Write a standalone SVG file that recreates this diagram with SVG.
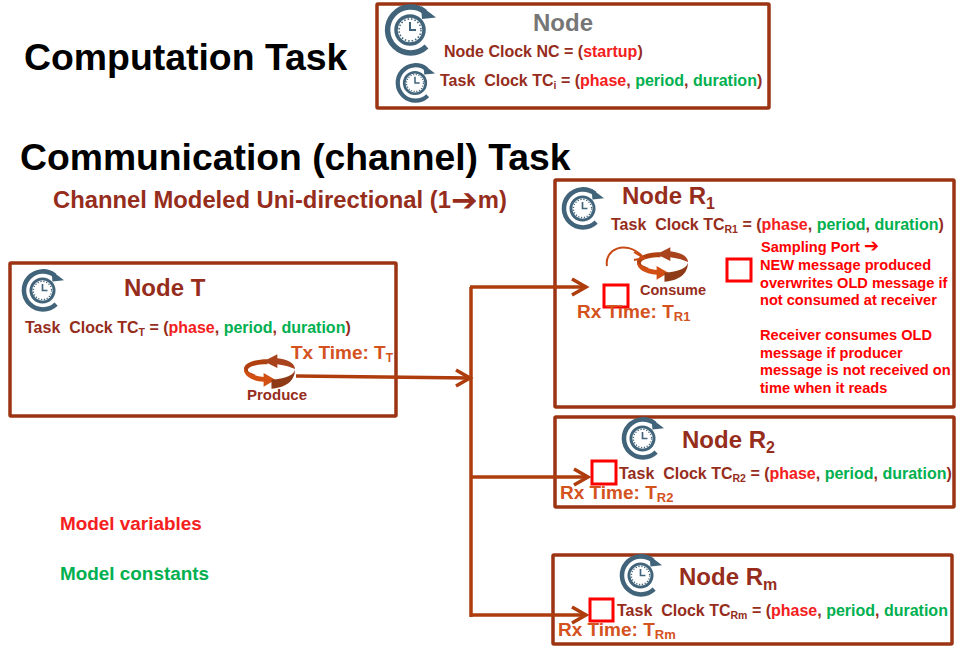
<svg xmlns="http://www.w3.org/2000/svg" width="960" height="652" viewBox="0 0 960 652">
<style>
text{font-family:"Liberation Sans",Arial,sans-serif;font-weight:700;white-space:pre}
.box{fill:#fff;stroke:#9c3414;stroke-width:3.5}
.port{fill:none;stroke:#f00;stroke-width:3}
.wire{fill:none;stroke:#ae3c0c;stroke-width:3.5}
.head{fill:none;stroke:#ae3c0c;stroke-width:3.5}
.t{fill:#962d1c;font-size:16px}
.h{fill:#962d1c;font-size:24px}
.rx{fill:#d4521e;font-size:19px}
.note{fill:#f00;font-size:14.6px}
.r{fill:#f42020}.g{fill:#00b050}
.sub{font-size:10.5px}
.rsub{font-size:13px}
.hsub{font-size:16px}
.arr{font-family:"DejaVu Sans",sans-serif}
</style>
<defs>
<symbol id="clock" viewBox="-26 -26 52 52" overflow="visible">
<path d="M15 -18A23 23 0 1 0 16.5 16.5" fill="none" stroke="#41647a" stroke-width="5.5"/>
<path d="M11 -24L26 -12.500L12 -11Z" fill="#41647a"/>
<circle r="14" fill="none" stroke="#41647a" stroke-width="3.5"/>
<circle r="11" fill="none" stroke="#41647a" stroke-width="1.6" stroke-dasharray="1.5 2"/>
<path d="M0 -8V0H6" fill="none" stroke="#41647a" stroke-width="2"/>
</symbol>
<symbol id="cycle" viewBox="-27 -17 54 34" overflow="visible">
<path d="M-2 -13C-16 -13 -26 -9 -26 -3C-26 1 -23 4 -18 6L-14 3C-19 1 -22 0 -22 -2C-22 -6 -12 -8 -2 -8Z" fill="#b0400f"/>
<path d="M-26 -3C-26 5 -17 9 -6 10L-6 15L6 8L-6 1L-6 5C-15 4 -23 1 -26 -3Z" fill="#d24f14"/>
<path d="M8 -18L-6 -11L8 -4L8 -8C16 -7 22 -5 26 -3C26 -9 18 -13 8 -14Z" fill="#a8431e"/>
<path d="M26 -3C26 3 16 7 2 8L2 17C16 16 26 10 26 -3Z" fill="#8f3a16"/>
</symbol>
</defs>

<text x="24" y="70" font-size="37.4" fill="#000">Computation Task</text>
<text x="20" y="170" font-size="37.3" fill="#000">Communication (channel) Task</text>
<text x="53" y="208" font-size="23.800" fill="#962d1c">Channel Modeled Uni-directional (1<tspan class="arr" font-size="32" dy="3">➔</tspan><tspan dy="-3">m)</tspan></text>
<text x="60" y="530" font-size="18.9" class="r">Model variables</text>
<text x="60" y="580" font-size="18.9" class="g">Model constants</text>

<g id="node-legend">
<rect class="box" x="377" y="4" width="392" height="104" rx="1"/>
<use href="#clock" x="384" y="4" width="52" height="52"/>
<use href="#clock" x="395" y="63" width="40" height="40"/>
<text x="533" y="31" font-size="24" fill="#767676">Node</text>
<text class="t" x="444" y="57">Node Clock NC = (<tspan class="r">startup</tspan>)</text>
<text class="t" x="440" y="86">Task  Clock TC<tspan class="sub" dy="3">i</tspan><tspan dy="-3"> = (</tspan><tspan class="r">phase</tspan>, <tspan class="g">period</tspan>, <tspan class="g">duration</tspan>)</text>
</g>

<g id="node-t">
<rect class="box" x="10" y="263" width="386" height="153" rx="1"/>
<use href="#clock" x="21" y="269" width="43" height="43"/>
<text class="h" x="124" y="296">Node T</text>
<text class="t" x="25" y="333">Task  Clock TC<tspan class="sub" dy="3">T</tspan><tspan dy="-3"> = (</tspan><tspan class="r">phase</tspan>, <tspan class="g">period</tspan>, <tspan class="g">duration</tspan>)</text>
<use href="#cycle" x="243" y="355" width="53" height="34"/>
<text x="247" y="400" font-size="15" fill="#962d1c">Produce</text>
<text class="rx" x="291" y="359" font-size="18.8">Tx Time: T<tspan font-size="12" dy="3">T</tspan></text>
</g>

<g id="node-r1">
<rect class="box" x="555" y="180" width="399" height="227" rx="1"/>
<use href="#clock" x="561" y="187" width="43" height="43"/>
<text class="h" x="622" y="204">Node R<tspan class="hsub" dy="5">1</tspan></text>
<text class="t" x="611" y="230">Task  Clock TC<tspan class="sub" dy="3">R1</tspan><tspan dy="-3"> = (</tspan><tspan class="r">phase</tspan>, <tspan class="g">period</tspan>, <tspan class="g">duration</tspan>)</text>
<use href="#cycle" x="636" y="248" width="53" height="34"/>
<path d="M607 266C604 250 625 239 642 256" fill="none" stroke="#c84a14" stroke-width="2"/>
<path d="M634 252L644 258L634 260" fill="none" stroke="#c84a14" stroke-width="2"/>
<text x="640" y="295" font-size="14.500" fill="#962d1c">Consume</text>
<rect class="port" x="604" y="285" width="24" height="22"/>
<rect class="port" x="727" y="259" width="24" height="22"/>
<text class="rx" x="577" y="318">Rx Time: T<tspan class="rsub" dy="3">R1</tspan></text>
<text class="note" x="761" y="252" font-size="14">Sampling Port <tspan class="arr" font-size="18">➔</tspan></text>
<text class="note" x="760" y="270">NEW message produced</text>
<text class="note" x="760" y="288">overwrites OLD message if</text>
<text class="note" x="760" y="305">not consumed at receiver</text>
<text class="note" x="760" y="340">Receiver consumes OLD</text>
<text class="note" x="760" y="358">message if producer</text>
<text class="note" x="760" y="375">message is not received on</text>
<text class="note" x="760" y="393">time when it reads</text>
</g>

<g id="node-r2">
<rect class="box" x="555" y="417" width="399" height="90" rx="1"/>
<use href="#clock" x="621" y="417" width="43" height="43"/>
<text class="h" x="682" y="448">Node R<tspan class="hsub" dy="5">2</tspan></text>
<rect class="port" x="592" y="461" width="24" height="23"/>
<text class="t" x="619" y="479">Task  Clock TC<tspan class="sub" dy="3">R2</tspan><tspan dy="-3"> = (</tspan><tspan class="r">phase</tspan>, <tspan class="g">period</tspan>, <tspan class="g">duration</tspan>)</text>
<text class="rx" x="560" y="499">Rx Time: T<tspan class="rsub" dy="3">R2</tspan></text>
</g>

<g id="node-rm">
<rect class="box" x="553" y="555" width="399" height="89" rx="1"/>
<use href="#clock" x="619" y="554" width="43" height="43"/>
<text class="h" x="679" y="585">Node R<tspan class="hsub" dy="5">m</tspan></text>
<rect class="port" x="590" y="599" width="23" height="22"/>
<text class="t" x="617" y="616">Task  Clock TC<tspan class="sub" dy="3">Rm</tspan><tspan dy="-3"> = (</tspan><tspan class="r">phase</tspan>, <tspan class="g">period</tspan>, <tspan class="g">duration</tspan></text>
<text class="rx" x="558" y="636">Rx Time: T<tspan class="rsub" dy="3">Rm</tspan></text>
</g>

<g id="connectors">
<path class="wire" d="M296 376L470 378"/>
<path class="head" d="M456 370L470 378L456 386"/>
<path class="wire" d="M471 287V617"/>
<path class="wire" d="M470 287H586"/>
<path class="head" d="M572 279L586 287L572 295"/>
<path class="wire" d="M471 477H588"/>
<path class="head" d="M574 469L588 477L574 485"/>
<path class="wire" d="M471 615H586"/>
<path class="head" d="M572 607L586 615L572 623"/>
</g>
</svg>
